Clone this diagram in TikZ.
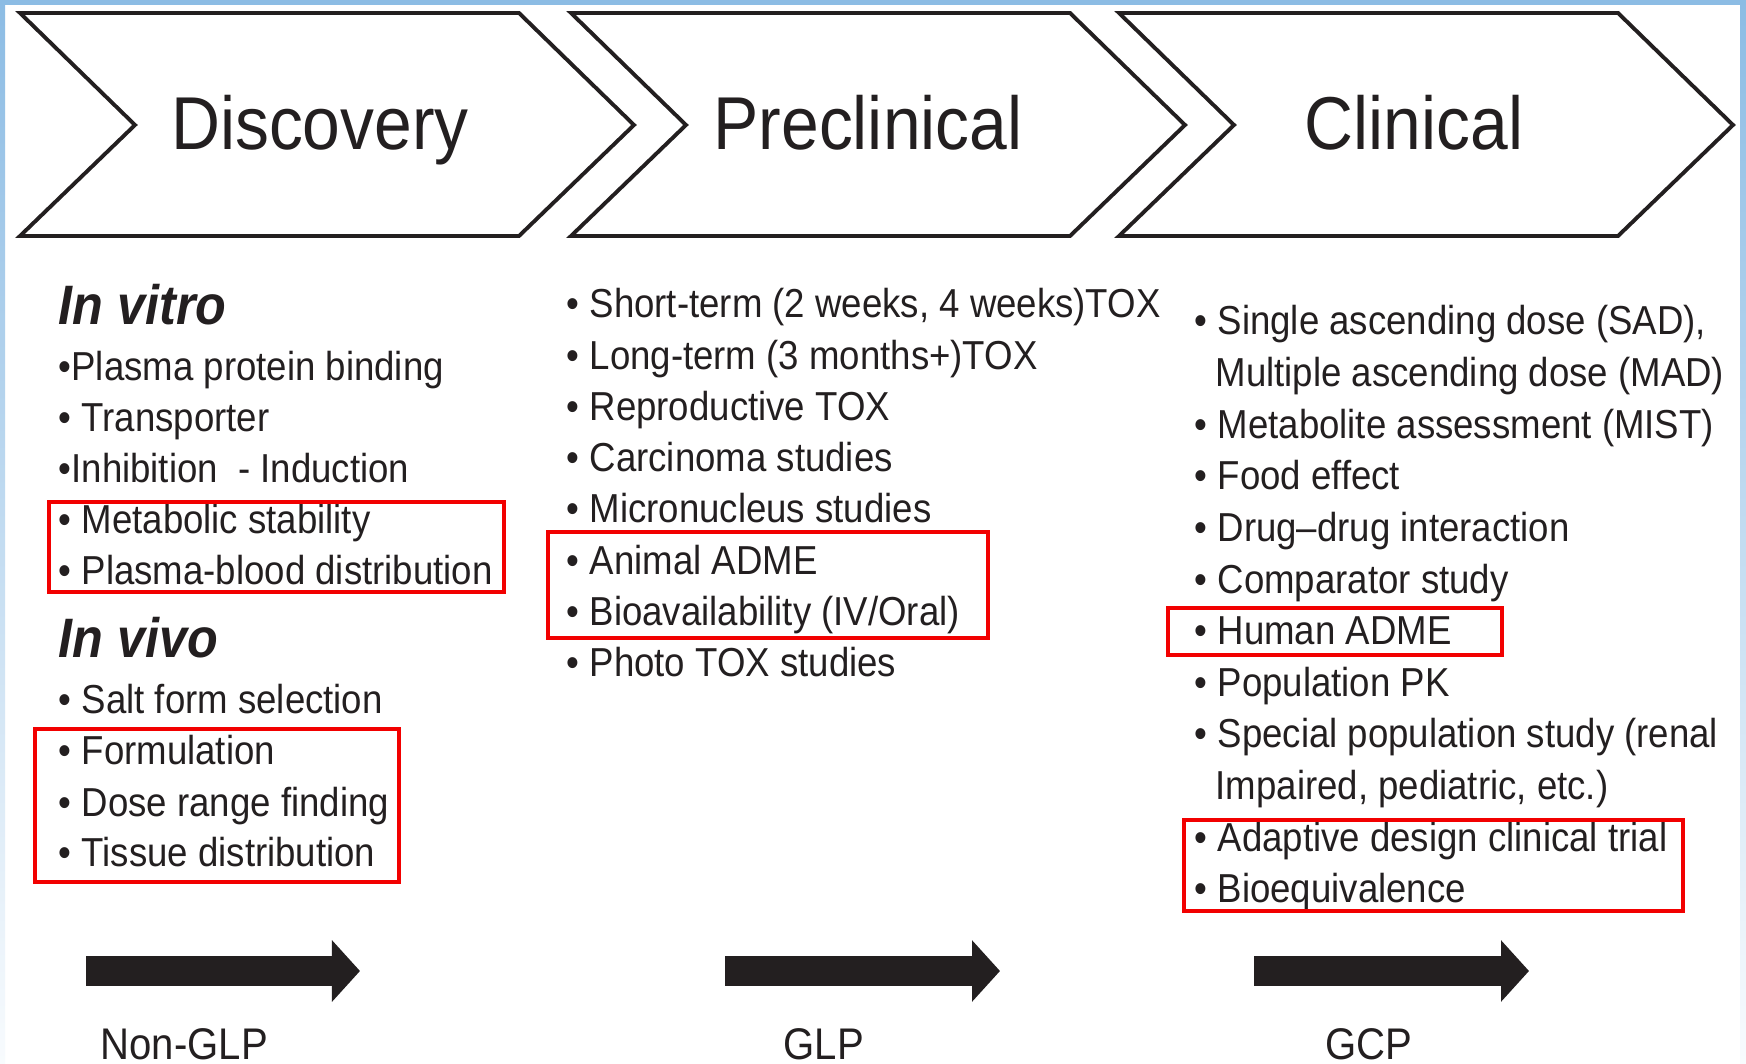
\documentclass[tikz,border=0pt]{standalone}
\usepackage{fontspec}
\setmainfont{Liberation Sans}[FakeStretch=0.905]
\usepackage{xcolor}
\usepackage{tikz}
\usetikzlibrary{arrows.meta}
\definecolor{frameblue}{HTML}{8CBCE4}
\definecolor{boxred}{HTML}{F20000}
\definecolor{ink}{HTML}{231F20}
\tikzset{
  chev/.style  ={draw=ink, line width=1.1pt, miter limit=20, fill=white},
  phase/.style ={anchor=base, inner sep=0pt, text=ink, font=\fontsize{21.3}{24}\selectfont},
  head/.style  ={anchor=base west, inner sep=0pt, text=ink, font=\fontsize{15.8}{18}\selectfont\bfseries\itshape},
  item/.style  ={anchor=base west, inner sep=0pt, text=ink, font=\fontsize{11.5}{13}\selectfont},
  hilite/.style={draw=boxred, line width=1.4pt},
  flow/.style  ={draw=ink, line width=0.3cm, -{Triangle[length=0.28cm, width=0.6cm]}},
  regime/.style={anchor=base west, inner sep=0pt, text=ink, font=\fontsize{12.6}{15}\selectfont},
}

\begin{document}
\begin{tikzpicture}[x=0.01cm, y=-0.01cm]
        \path[use as bounding box, clip] (0,0) rectangle (1746,1064);
        \fill[white] (0,0) rectangle (1746,1064);
        % frame
        \shade[top color=frameblue, bottom color=frameblue!6] (0,0) rectangle (5,1064);
        \shade[top color=frameblue, bottom color=frameblue!6] (1740,0) rectangle (1746,1064);
        \fill[frameblue] (0,0) rectangle (1746,5);
        % phases
        \foreach \x/\t/\c [count=\i] in {20/Discovery/320, 571/Preclinical/868, 1119/Clinical/1414} {
          \draw[chev] (\x,13) -- ++(499,0) -- ++(115,112) -- ++(-115,111) -- ++(-499,0) -- ++(115,-111) -- cycle;
          \node[phase] (P\i) at (\c,150) {\t};
        }
        % discovery
        \node[head] (V1) at (58,324) {In vitro};
        \node[item] (D1) at (58,380) {•Plasma protein binding};
        \node[item] (D2) at (58,432) {• Transporter};
        \node[item] (D3) at (58,482) {•Inhibition~~- Induction};
        \node[item] (D4) at (58,533) {• Metabolic stability};
        \node[item] (D5) at (58,584) {• Plasma-blood distribution};
        \node[head] (V2) at (58,657) {In vivo};
        \node[item] (D6) at (58,713) {• Salt form selection};
        \node[item] (D7) at (58,764) {• Formulation};
        \node[item] (D8) at (58,816) {• Dose range finding};
        \node[item] (D9) at (58,866) {• Tissue distribution};
        % preclinical
        \foreach \t [count=\i from 0] in {{Short-term (2 weeks, 4 weeks)TOX}, Long-term (3 months+)TOX,
            Reproductive TOX, Carcinoma studies, Micronucleus studies, Animal ADME,
            Bioavailability (IV/Oral), Photo TOX studies}
          \node[item] (R\i) at (566,318+51.2*\i) {• \t};
        % clinical
        \foreach \i/\t in {0/{Single ascending dose (SAD),}, 2/Metabolite assessment (MIST),
            3/Food effect, 4/Drug–drug interaction, 5/Comparator study, 6/Human ADME,
            7/Population PK, 8/Special population study (renal, 10/Adaptive design clinical trial,
            11/Bioequivalence}
          \node[item] (C\i) at (1194,335+51.6*\i) {• \t};
        \node[item] (C1) at (1215,386.6) {Multiple ascending dose (MAD)};
        \node[item] (C9) at (1215,799.4) {Impaired, pediatric, etc.)};
        % highlights
        \draw[hilite] (49,502) rectangle (504,592);
        \draw[hilite] (35,729) rectangle (399,882);
        \draw[hilite] (548,532) rectangle (988,638);
        \draw[hilite] (1168,608) rectangle (1502,655);
        \draw[hilite] (1184,820) rectangle (1683,911);
        % regimes
        \foreach \a/\b/\l/\t [count=\i] in {86/360/100/Non-GLP, 725/1000/783/GLP, 1254/1529/1325/GCP} {
          \coordinate (S\i) at (\a,971);
          \coordinate (E\i) at (\b,971);
          \draw[flow] (S\i) -- (E\i);
          \node[regime] (L\i) at (\l,1059) {\t};
        }
      \end{tikzpicture}
\end{document}
